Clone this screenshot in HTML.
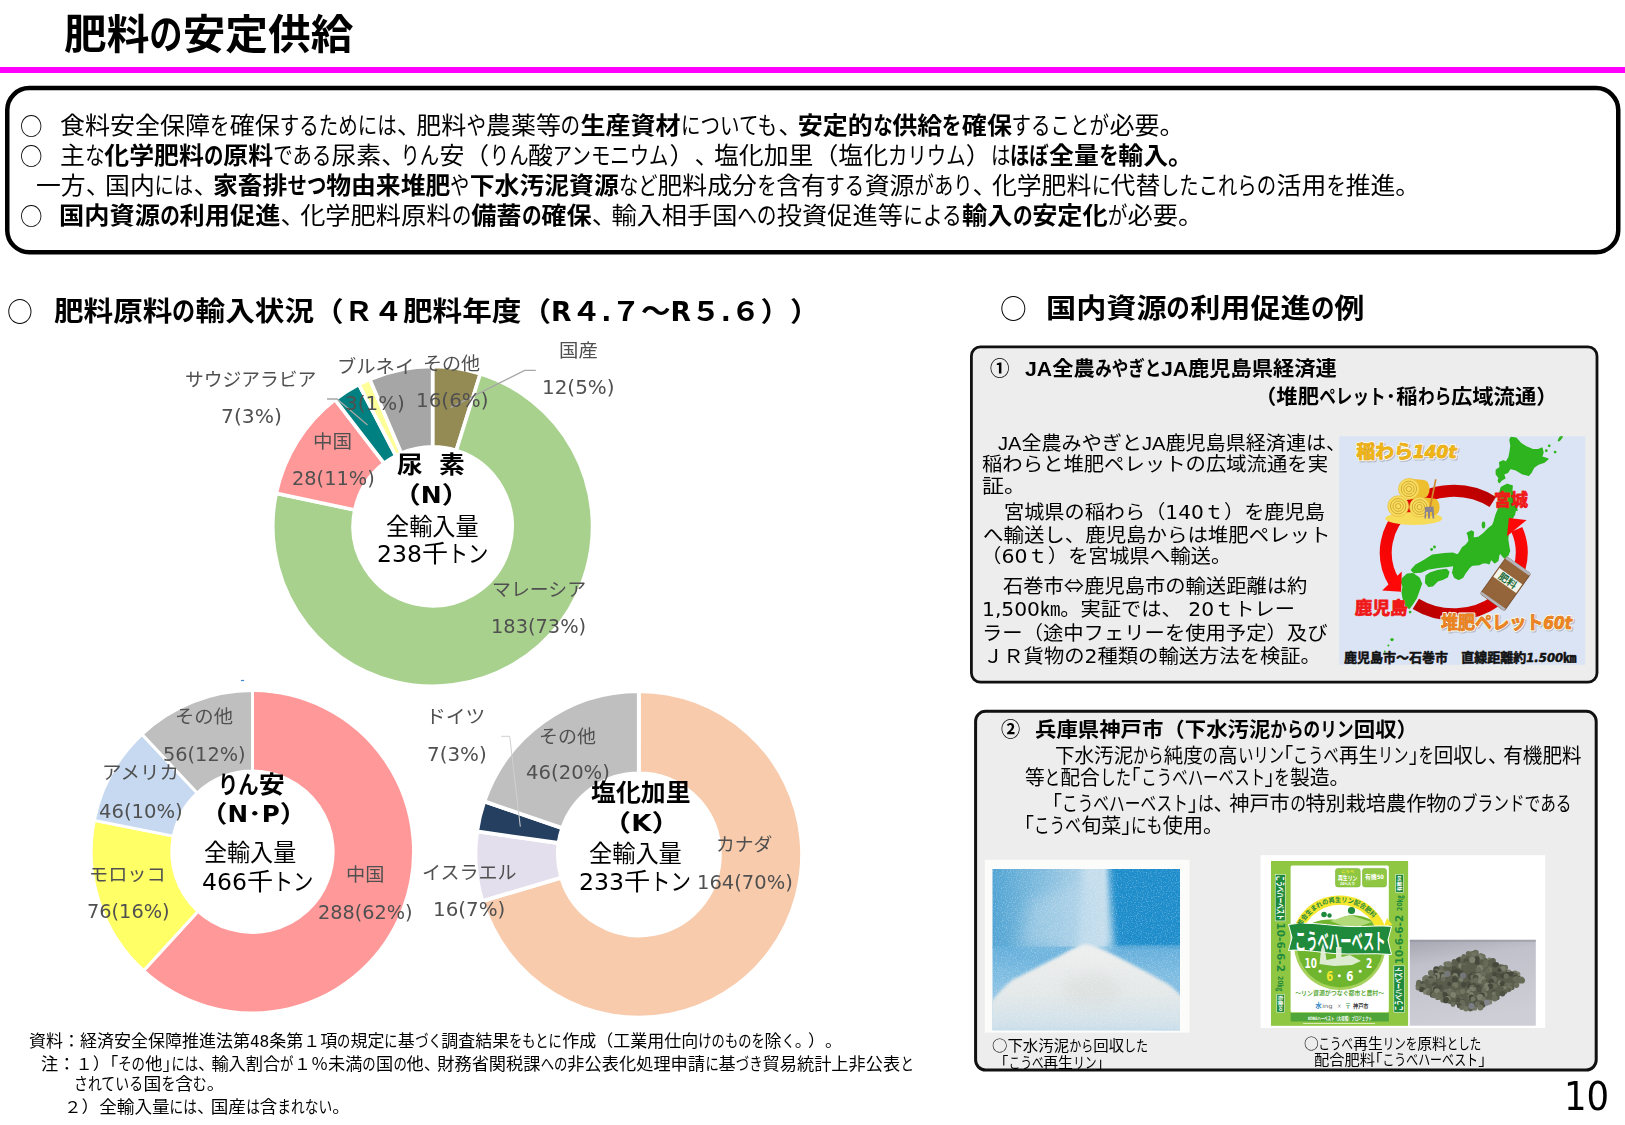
<!DOCTYPE html>
<html lang="ja"><head><meta charset="utf-8"><title>肥料の安定供給</title>
<style>
html,body{margin:0;padding:0;background:#fff}
body{width:1625px;height:1125px;position:relative;overflow:hidden;font-family:"DejaVu Sans Condensed","Liberation Sans","Noto Sans CJK JP",sans-serif;color:#000}
.t{position:absolute;white-space:nowrap;text-spacing-trim:space-all;transform-origin:0 0;line-height:1;font-weight:400}
.m{font-family:"DejaVu Sans","Liberation Sans","Noto Sans CJK JP",sans-serif}
.n{font-family:"Noto Sans CJK JP",sans-serif}
.t em{font-style:normal;font-family:"Liberation Sans",sans-serif}
.t u{display:inline-block;text-decoration:none;white-space:nowrap}
.t i{font-style:normal;letter-spacing:-.22em}
.t s{display:inline-block;text-decoration:none;transform:scaleX(.78);transform-origin:0 0}
.b,.t b{font-weight:700}
svg{position:absolute;left:0;top:0}
svg text{font-family:"DejaVu Sans Condensed","Liberation Sans","Noto Sans CJK JP",sans-serif}
</style></head>
<body>
<svg width="1625" height="1125" viewBox="0 0 1625 1125"><rect x="0" y="67" width="1625" height="6" fill="#ff00ff"/><rect x="7.25" y="88.1" width="1611" height="164.1" rx="22" ry="22" fill="#fff" stroke="#000" stroke-width="4.5"/><g stroke="#fff" stroke-width="3.6" stroke-linejoin="miter"><path d="M432.6 366.4A159.9 159.9 0 0 1 480.3 373.7L456.3 450.4A79.5 79.5 0 0 0 432.6 446.8Z" fill="#948A54"/><path d="M480.3 373.7A159.9 159.9 0 1 1 276.2 493.3L354.8 509.9A79.5 79.5 0 1 0 456.3 450.4Z" fill="#A9D18E"/><path d="M276.2 493.3A159.9 159.9 0 0 1 335.1 399.6L384.1 463.3A79.5 79.5 0 0 0 354.8 509.9Z" fill="#FF9999"/><path d="M335.1 399.6A159.9 159.9 0 0 1 358.8 384.4L395.9 455.8A79.5 79.5 0 0 0 384.1 463.3Z" fill="#008080"/><path d="M358.8 384.4A159.9 159.9 0 0 1 369.8 379.3L401.4 453.2A79.5 79.5 0 0 0 395.9 455.8Z" fill="#FFFF99"/><path d="M369.8 379.3A159.9 159.9 0 0 1 432.6 366.4L432.6 446.8A79.5 79.5 0 0 0 401.4 453.2Z" fill="#A6A6A6"/></g><g stroke="#fff" stroke-width="3" stroke-linejoin="miter"><path d="M252.5 690.5A161.2 161.2 0 1 1 143.6 970.7L198 911.3A80.7 80.7 0 1 0 252.5 771Z" fill="#FF9999"/><path d="M143.6 970.7A161.2 161.2 0 0 1 94.3 820.4L173.3 836.1A80.7 80.7 0 0 0 198 911.3Z" fill="#FFFF66"/><path d="M94.3 820.4A161.2 161.2 0 0 1 142 734.3L197.2 793A80.7 80.7 0 0 0 173.3 836.1Z" fill="#C6D9F1"/><path d="M142 734.3A161.2 161.2 0 0 1 252.5 690.5L252.5 771A80.7 80.7 0 0 0 197.2 793Z" fill="#BFBFBF"/></g><g stroke="#fff" stroke-width="3.8" stroke-linejoin="miter"><path d="M638.8 691.1A163.3 163.3 0 1 1 482.3 901.1L561.2 877.6A81 81 0 1 0 638.8 773.4Z" fill="#F8CBAD"/><path d="M482.3 901.1A163.3 163.3 0 0 1 477.1 831.4L558.6 843A81 81 0 0 0 561.2 877.6Z" fill="#E4DFEC"/><path d="M477.1 831.4A163.3 163.3 0 0 1 484.3 801.4L562.2 828.1A81 81 0 0 0 558.6 843Z" fill="#243F60"/><path d="M484.3 801.4A163.3 163.3 0 0 1 638.8 691.1L638.8 773.4A81 81 0 0 0 562.2 828.1Z" fill="#BFBFBF"/></g><rect x="240.9" y="679.9" width="3.2" height="1.2" fill="#3F8AD0"/><path d="M327 399H337L367.5 425" fill="none" stroke="#A6A6A6" stroke-width="1.3"/><path d="M535.8 370.3H524.7L450.5 407.6" fill="none" stroke="#A6A6A6" stroke-width="1.3"/><path d="M501.1 736.3H509.7L520.3 826.6" fill="none" stroke="#D0D0D0" stroke-width="1"/><rect x="971.4" y="346.9" width="625.6" height="335.2" rx="9" ry="9" fill="#EDEDED" stroke="#111" stroke-width="2.8"/><rect x="975.6" y="711.3" width="620.6" height="358.8" rx="10" ry="10" fill="#EDEDED" stroke="#111" stroke-width="3"/><g><defs><clipPath id="mc"><rect x="1339.2" y="436.3" width="246" height="228.5"/></clipPath><linearGradient id="ga" gradientUnits="userSpaceOnUse" x1="1490" y1="495" x2="1395" y2="590"><stop offset="0" stop-color="#B80000"/><stop offset=".4" stop-color="#E00000"/><stop offset="1" stop-color="#FF0808"/></linearGradient><linearGradient id="gb" gradientUnits="userSpaceOnUse" x1="1415" y1="610" x2="1520" y2="530"><stop offset="0" stop-color="#B80000"/><stop offset=".5" stop-color="#D80000"/><stop offset="1" stop-color="#FF0808"/></linearGradient></defs><rect x="1339.2" y="436.3" width="246" height="228.5" fill="#DBE4F4"/><g clip-path="url(#mc)"><polygon points="1511.1,437.5 1516,438.4 1520.9,443.8 1525.7,446.8 1532.6,449.7 1538.5,449.7 1541.9,448.2 1542.9,452.6 1541.4,457 1547.8,459 1544.3,461.9 1538.5,463.9 1533.6,467.3 1531.1,472.2 1528.7,475.1 1522.8,473.7 1516,469.7 1510.1,468.3 1507.7,472.2 1503.3,474.1 1504.7,478.1 1501.3,480 1499.3,482.5 1498.4,480.5 1499.3,478.1 1496.4,474.1 1496.4,470.2 1500.3,467.3 1499.8,462.4 1503.3,460.9 1506.2,462.4 1509.1,457.5 1510.1,452.6 1511.1,445.8 1510.1,439.9" fill="#2DB41E" stroke="#2DB41E" stroke-width="1.6" stroke-linejoin="round"/><polygon points="1502.3,486.9 1507.2,484.4 1512.1,485.9 1511.6,490.8 1514,496.6 1516,504.5 1516.9,510.3 1515.3,509.8 1514.3,514.7 1511.9,518.6 1508.5,529.3 1507.5,539.1 1508.5,546 1509.4,550.9 1507.5,555.7 1504.5,557.7 1502.6,555.7 1500.6,552.8 1498.7,554.8 1497.7,560.6 1494.8,562.6 1490.9,558.7 1488.9,563.6 1486,562.6 1483,562.6 1479.1,564.5 1473.3,565 1469.3,562.6 1468.4,568.5 1465.4,572.4 1462.5,577.3 1458.6,579.2 1454.7,577.3 1452.7,572.4 1454.7,567.5 1456.6,563.6 1477.6,564.1 1471.7,565.1 1467.8,569 1462.9,572.9 1460,578.8 1456.1,577.8 1453.1,572 1454.1,565.1 1448.2,566.1 1438.5,567.1 1427.7,569 1420.9,572 1414,572.5 1411.6,570 1416,565.1 1424.8,560.2 1432.6,555.3 1444.3,553.9 1453.1,553.4 1458,555.3 1459.6,552.8 1462.5,547.9 1466.4,545 1469.3,541.1 1468.4,535.2 1467.4,533.3 1471.3,531.1 1473.3,532.3 1472.8,538.6 1479.1,537.2 1483,534.2 1488.9,528.4 1492.8,525.4 1494.3,521.5 1496.2,514.7 1498.7,508.8 1499.3,494.7 1501.3,487.8" fill="#2DB41E" stroke="#2DB41E" stroke-width="1.6" stroke-linejoin="round"/><polygon points="1402.3,578.8 1407.2,574.4 1413,573.9 1418.9,577.8 1421.3,583.7 1418.9,590.5 1416,598.4 1412.1,604.2 1409.1,608.2 1406.2,606.2 1403.3,598.4 1402.3,592.5 1403.3,586.6 1401.8,582.7" fill="#2DB41E" stroke="#2DB41E" stroke-width="1.6" stroke-linejoin="round"/><polygon points="1426.2,575.9 1430.6,572.9 1438.5,570.5 1446.3,569.5 1448.7,572 1447.3,576.9 1442.4,579.3 1437.5,580.8 1432.6,585.7 1428.7,586.1 1425.7,582.7" fill="#2DB41E" stroke="#2DB41E" stroke-width="1.6" stroke-linejoin="round"/><circle cx="1549.2" cy="445.8" r="1.4" fill="#2DB41E"/><circle cx="1546.3" cy="450.7" r="1.4" fill="#2DB41E"/><circle cx="1555.1" cy="452.1" r="1.4" fill="#2DB41E"/><circle cx="1434.5" cy="547" r="1.4" fill="#2DB41E"/><circle cx="1431.6" cy="549.5" r="1.4" fill="#2DB41E"/><circle cx="1410.1" cy="612.1" r="1.4" fill="#2DB41E"/><ellipse cx="1560.5" cy="438" rx="1.5" ry="4" transform="rotate(35 1560.5 438)" fill="#2DB41E"/><ellipse cx="1483.5" cy="525" rx="1.8" ry="3.4" fill="#2DB41E"/><circle cx="1392" cy="639.6" r="1.7" fill="#2DB41E"/><circle cx="1388.4" cy="645.6" r="1" fill="#2DB41E"/><circle cx="1384.8" cy="651.6" r="1" fill="#2DB41E"/><circle cx="1376.4" cy="662.4" r="1" fill="#2DB41E"/><path d="M1492.8 502A68 61.8 0 0 0 1394.3 582.6" fill="none" stroke="url(#ga)" stroke-width="12"/><polygon points="1382.2,590.5 1401.8,571.5 1401.1,591.7" fill="#FF0808"/><path d="M1415.8 603.8A68 61.8 0 0 0 1516.8 529.4" fill="none" stroke="url(#gb)" stroke-width="12"/><polygon points="1508.9,518.1 1526.6,520 1507,536.2" fill="#FF0808"/><ellipse cx="1413.8" cy="518.5" rx="28.5" ry="6.4" fill="#F7DC5A"/><path d="M1408.9 478.5L1423.9 480A5.7 8.9 0 0 1 1423.9 497.8L1408.9 499.3Z" fill="#EDBE2E"/><circle cx="1408.9" cy="488.9" r="10.4" fill="#F9DD60" stroke="#E8C040" stroke-width=".8"/><circle cx="1408.9" cy="488.9" r="7.7" fill="none" stroke="#CDA52A" stroke-width=".9"/><circle cx="1408.9" cy="488.9" r="5.2" fill="none" stroke="#CDA52A" stroke-width=".9"/><circle cx="1408.9" cy="488.9" r="2.7" fill="none" stroke="#CDA52A" stroke-width=".9"/><path d="M1419.6 497.1L1434.1 498.6A5.5 8.5 0 0 1 1434.1 515.6L1419.6 517.1Z" fill="#EDBE2E"/><circle cx="1419.6" cy="507.1" r="10" fill="#F9DD60" stroke="#E8C040" stroke-width=".8"/><circle cx="1419.6" cy="507.1" r="7.4" fill="none" stroke="#CDA52A" stroke-width=".9"/><circle cx="1419.6" cy="507.1" r="5" fill="none" stroke="#CDA52A" stroke-width=".9"/><circle cx="1419.6" cy="507.1" r="2.6" fill="none" stroke="#CDA52A" stroke-width=".9"/><circle cx="1398.2" cy="506.2" r="10.4" fill="#F9DD60" stroke="#E8C040" stroke-width=".8"/><circle cx="1398.2" cy="506.2" r="7.7" fill="none" stroke="#CDA52A" stroke-width=".9"/><circle cx="1398.2" cy="506.2" r="5.2" fill="none" stroke="#CDA52A" stroke-width=".9"/><circle cx="1398.2" cy="506.2" r="2.7" fill="none" stroke="#CDA52A" stroke-width=".9"/><path d="M1435 479L1436.6 479.4L1431 507.5L1429.2 507.2Z" fill="#D08A30"/><path d="M1425 507L1433.5 506.5L1434.3 518.5L1432.5 518.5L1432 512L1430 512L1430 518.5L1428 518.5L1428 512L1426.2 512L1426 518.5L1424.4 518.5Z" fill="#8A8490"/><g transform="rotate(35.5 1505.5 583.7)"><rect x="1490.8" y="561" width="29.4" height="45.4" rx="2" fill="#94643A" stroke="#7A5230" stroke-width="1"/><rect x="1490.8" y="560.5" width="29.4" height="3" fill="#B4B4BC"/><rect x="1490.8" y="604" width="29.4" height="2.6" fill="#B4B4BC"/><rect x="1491.5" y="574.5" width="28" height="10.6" fill="#F3F5EC"/><text x="1495.5" y="583.4" font-size="9.6" font-weight="700" fill="#1E6B3A" textLength="20" lengthAdjust="spacingAndGlyphs">肥料</text></g><g transform="translate(1 1.4)" opacity=".55"><text x="1356.5" y="457.8" font-size="18.5" font-weight="700" fill="#8C93A8" stroke="#8C93A8" stroke-width="3" paint-order="stroke" stroke-linejoin="round" textLength="100" lengthAdjust="spacingAndGlyphs">稲わら<tspan font-style="italic">140t</tspan></text></g><text x="1356.5" y="457.8" font-size="18.5" font-weight="700" fill="#FFF9E6" stroke="#FFF9E6" stroke-width="2.8" paint-order="stroke" stroke-linejoin="round" textLength="100" lengthAdjust="spacingAndGlyphs">稲わら<tspan font-style="italic">140t</tspan></text><text x="1356.5" y="457.8" font-size="18.5" font-weight="700" fill="#F0B414" stroke="#C98F00" stroke-width="0.7" paint-order="stroke" stroke-linejoin="round" textLength="100" lengthAdjust="spacingAndGlyphs">稲わら<tspan font-style="italic">140t</tspan></text><g transform="translate(1 1.4)" opacity=".55"><text x="1441" y="628.7" font-size="18.5" font-weight="700" fill="#8C93A8" stroke="#8C93A8" stroke-width="3" paint-order="stroke" stroke-linejoin="round" textLength="131" lengthAdjust="spacingAndGlyphs">堆肥ペレット<tspan font-style="italic">60t</tspan></text></g><text x="1441" y="628.7" font-size="18.5" font-weight="700" fill="#FFF9E6" stroke="#FFF9E6" stroke-width="2.8" paint-order="stroke" stroke-linejoin="round" textLength="131" lengthAdjust="spacingAndGlyphs">堆肥ペレット<tspan font-style="italic">60t</tspan></text><text x="1441" y="628.7" font-size="18.5" font-weight="700" fill="#EE8420" stroke="#B85C0C" stroke-width="0.7" paint-order="stroke" stroke-linejoin="round" textLength="131" lengthAdjust="spacingAndGlyphs">堆肥ペレット<tspan font-style="italic">60t</tspan></text><text x="1494" y="505.7" font-size="17" font-weight="700" fill="#F01818" stroke="#F01818" stroke-width="0.8" paint-order="stroke" stroke-linejoin="round" textLength="34" lengthAdjust="spacingAndGlyphs">宮城</text><text x="1354.8" y="613.9" font-size="17.5" font-weight="700" fill="#F01818" stroke="#F01818" stroke-width="0.8" paint-order="stroke" stroke-linejoin="round" textLength="52.8" lengthAdjust="spacingAndGlyphs">鹿児島</text><text x="1344" y="662.3" font-size="13" font-weight="700" fill="#111" stroke="#111" stroke-width="0.5" paint-order="stroke" stroke-linejoin="round" textLength="232.3" lengthAdjust="spacingAndGlyphs">鹿児島市～石巻市　直線距離約<tspan font-style="italic">1.500</tspan>㎞</text></g></g><g><defs><clipPath id="p1"><rect x="992.5" y="869.1" width="187.5" height="161.1"/></clipPath><filter id="bl3" x="-20%" y="-20%" width="140%" height="140%"><feGaussianBlur stdDeviation="3.5"/></filter><filter id="bl1" x="-20%" y="-20%" width="140%" height="140%"><feGaussianBlur stdDeviation="1.6"/></filter><filter id="bl6" x="-30%" y="-30%" width="160%" height="160%"><feGaussianBlur stdDeviation="7"/></filter><filter id="gr" x="0" y="0" width="100%" height="100%"><feTurbulence type="fractalNoise" baseFrequency=".8" numOctaves="2" seed="3"/><feColorMatrix values="0 0 0 0 1 0 0 0 0 1 0 0 0 0 1 1.6 0 0 0 -.75"/></filter><linearGradient id="p1a" x1="0" y1="0" x2="1" y2="0"><stop offset="0" stop-color="#4FA3D3"/><stop offset=".25" stop-color="#7DBADD"/><stop offset=".48" stop-color="#A9CFE6"/><stop offset="1" stop-color="#A9CFE6"/></linearGradient><linearGradient id="p1b" x1="0" y1="0" x2="0" y2="1"><stop offset="0" stop-color="#62AEDB"/><stop offset=".5" stop-color="#8AC2E4"/><stop offset="1" stop-color="#A5D0EA"/></linearGradient><linearGradient id="p1c" x1="0" y1="0" x2="0" y2="1"><stop offset="0" stop-color="#EDEFEE"/><stop offset=".5" stop-color="#E4E8E8"/><stop offset=".85" stop-color="#CFE0EA"/><stop offset="1" stop-color="#B2D3E8"/></linearGradient></defs><rect x="984.8" y="859.8" width="204.8" height="172.8" fill="#FCFCFA"/><g clip-path="url(#p1)"><rect x="992" y="868" width="189" height="80" fill="url(#p1a)"/><rect x="992" y="946.5" width="189" height="85" fill="url(#p1b)"/><rect x="1150" y="990" width="40" height="50" fill="#5FA8D8" opacity=".55" filter="url(#bl6)"/><rect x="1106" y="860" width="80" height="86.5" fill="#1A8CCB" filter="url(#bl1)"/><path d="M1084 860L1108 860L1114 948L1078 948Z" fill="#C9E0EE" opacity=".9" filter="url(#bl3)"/><path d="M1030 900L1090 880L1096 946L1020 946Z" fill="#B5D6EA" opacity=".5" filter="url(#bl6)"/><path d="M980 1040L980 1012C992 1002 1000 990 1012 980C1032 970 1056 958 1070 950C1078 946 1082 944 1088 944.5C1096 945.5 1104 950 1116 956C1136 966 1154 976 1168 984C1176 990 1184 998 1190 1006L1190 1040Z" fill="url(#p1c)" filter="url(#bl1)"/><ellipse cx="1092" cy="990" rx="30" ry="16" fill="#D6DAD8" opacity=".5" filter="url(#bl6)"/><rect x="992" y="868" width="189" height="163" filter="url(#gr)" opacity=".5"/></g></g><g><rect x="1260.6" y="855.2" width="284.6" height="172.8" fill="#fff"/><rect x="1271" y="861" width="137.1" height="164.8" fill="#8FC742"/><rect x="1290.6" y="865.6" width="98.2" height="146.6" rx="1.5" fill="#fff"/><rect x="1290.6" y="1013" width="98.2" height="8.5" fill="#4FA53A"/><rect x="1303" y="1023" width="72" height="1" fill="#D6EBB8"/><defs><clipPath id="bgl"><rect x="1290" y="946" width="100" height="60"/></clipPath><clipPath id="bgu"><rect x="1290" y="890" width="100" height="56"/></clipPath><clipPath id="bgi"><circle cx="1339.7" cy="944.1" r="39.4"/></clipPath></defs><circle cx="1339.7" cy="944.1" r="48.7" fill="#F5E62E" clip-path="url(#bgu)"/><circle cx="1339.7" cy="944.1" r="39.4" fill="#fff" clip-path="url(#bgu)"/><path d="M1387 918L1392.5 925L1384 926Z" fill="#F5E62E"/><g clip-path="url(#bgi)"><path d="M1300 932C1310 922 1322 918 1336 920C1350 912 1366 914 1380 926L1382 950L1300 950Z" fill="#70B52E"/><path d="M1330 921L1350 915L1372 922L1352 929Z" fill="#B2D97A"/></g><circle cx="1324" cy="914.5" r="2.8" fill="#1F8A3C"/><circle cx="1329.5" cy="915.5" r="2.2" fill="#1F8A3C"/><circle cx="1351.5" cy="910.5" r="3.6" fill="#1F8A3C"/><circle cx="1339.9" cy="944.1" r="46" fill="#A6D15C" clip-path="url(#bgl)"/><circle cx="1340.1" cy="944.1" r="43.3" fill="#70B52E" clip-path="url(#bgl)"/><path d="M1288.5 924.5C1310 921 1330 926 1350 926.5C1368 927 1380 925 1391.5 926.5L1388 940L1391.5 954.5C1372 952.5 1352 955 1334 953.5C1316 952 1302 949 1288.5 950.5L1292 937.5Z" fill="#1F8A3C" stroke="#fff" stroke-width="1"/><text x="1295" y="948.5" font-size="22" font-weight="700" fill="#fff" textLength="90.5" lengthAdjust="spacingAndGlyphs">こうべハーベスト</text><path d="M1319.5 964L1321 950L1323 943L1325 950L1326.5 960L1336 958L1336 947L1341.5 947L1341.5 957L1350 955L1361 961L1352 965L1334 966Z" fill="#E9F1E2" opacity=".9"/><g fill="#fff" font-weight="700" font-size="13.2"><text x="1304.5" y="968.3" textLength="12.4" lengthAdjust="spacingAndGlyphs">10</text><text x="1365.9" y="968.3" textLength="6.2" lengthAdjust="spacingAndGlyphs">2</text><text x="1346.3" y="981.1" textLength="7.2" lengthAdjust="spacingAndGlyphs">6</text><text x="1326.2" y="981.1" textLength="7" lengthAdjust="spacingAndGlyphs" fill="#F5E62E">6</text><circle cx="1320" cy="971.2" r="1.5"/><circle cx="1339.3" cy="975.8" r="1.5"/><circle cx="1360.2" cy="971.2" r="1.5"/></g><rect x="1335.5" y="868.4" width="24.7" height="18.5" rx="2.5" fill="#8FC742" stroke="#7AB536" stroke-width=".6"/><rect x="1362.5" y="868.4" width="24" height="18.5" rx="2.5" fill="#8FC742" stroke="#7AB536" stroke-width=".6"/><text x="1338" y="879.6" font-size="6.2" font-weight="700" fill="#fff" textLength="19.5" lengthAdjust="spacingAndGlyphs">再生リン</text><text x="1341" y="873.4" font-size="3.8" font-weight="700" fill="#F5E62E" textLength="13" lengthAdjust="spacingAndGlyphs">こうべ</text><text x="1340" y="884.6" font-size="3.8" font-weight="700" fill="#fff" textLength="15" lengthAdjust="spacingAndGlyphs">20%入り</text><text x="1365" y="878.8" font-size="6" font-weight="700" fill="#fff" textLength="19" lengthAdjust="spacingAndGlyphs">有機50</text><defs><path id="arcp" d="M1301.5 926.5A42.3 42.3 0 0 1 1380 931"/></defs><text font-size="6.6" font-weight="700" fill="#1F8A3C"><textPath href="#arcp" textLength="86" lengthAdjust="spacingAndGlyphs">都会生まれの再生リン配合肥料</textPath></text><text x="1295.2" y="995.4" font-size="6" font-weight="700" fill="#5DAA3A" textLength="89" lengthAdjust="spacingAndGlyphs">～リン資源がつなぐ都市と農村～</text><text x="1315.3" y="1007.8" font-size="6.4" font-weight="700" fill="#2E86C8" textLength="6.5" lengthAdjust="spacingAndGlyphs">水</text><text x="1322.2" y="1007.5" font-size="5.6" fill="#666" textLength="10.5" lengthAdjust="spacingAndGlyphs">ing</text><text x="1337" y="1007.8" font-size="6" fill="#888">×</text><text x="1345" y="1007.8" font-size="6" font-weight="700" fill="#1F8A3C" textLength="7">〒</text><text x="1353" y="1007.5" font-size="5.4" font-weight="700" fill="#333" textLength="15.5" lengthAdjust="spacingAndGlyphs">神戸市</text><text x="1308" y="1019.6" font-size="4.6" font-weight="700" fill="#fff" textLength="64" lengthAdjust="spacingAndGlyphs">KOBEハーベスト（大収穫）プロジェクト</text><rect x="1275.2" y="874.6" width="10" height="46.3" fill="#1F8A3C" stroke="#fff" stroke-width=".5"/><text transform="translate(1277.1 875.8) rotate(90)" font-size="8.6" font-weight="700" fill="#fff" textLength="43.9" lengthAdjust="spacingAndGlyphs">こうべハーベスト</text><text transform="translate(1277.4 922.5) rotate(90)" font-size="10" font-weight="700" fill="#1F8A3C" textLength="49.5" lengthAdjust="spacingAndGlyphs">10-6-6-2</text><text transform="translate(1278.1 976) rotate(90)" font-size="7" font-weight="700" fill="#1F8A3C" textLength="15.5" lengthAdjust="spacingAndGlyphs">20㎏</text><rect x="1276.8" y="994.4" width="7.6" height="17.8" fill="#1F8A3C" stroke="#fff" stroke-width=".5"/><text transform="translate(1278.9 995.6) rotate(90)" font-size="4.6" font-weight="700" fill="#fff" textLength="15.4" lengthAdjust="spacingAndGlyphs">有機50</text><rect x="1395.8" y="874.6" width="7.6" height="17.7" fill="#1F8A3C" stroke="#fff" stroke-width=".5"/><text transform="translate(1401.3 891.1) rotate(-90)" font-size="4.6" font-weight="700" fill="#fff" textLength="15.3" lengthAdjust="spacingAndGlyphs">有機50</text><text transform="translate(1402.1 911) rotate(-90)" font-size="7" font-weight="700" fill="#1F8A3C" textLength="15.8" lengthAdjust="spacingAndGlyphs">20㎏</text><text transform="translate(1402.8 964.2) rotate(-90)" font-size="10" font-weight="700" fill="#1F8A3C" textLength="49.4" lengthAdjust="spacingAndGlyphs">10-6-6-2</text><rect x="1393.9" y="965.8" width="10.6" height="46.4" fill="#1F8A3C" stroke="#fff" stroke-width=".5"/><text transform="translate(1402.3 1011) rotate(-90)" font-size="8.6" font-weight="700" fill="#fff" textLength="44" lengthAdjust="spacingAndGlyphs">こうべハーベスト</text></g><g><defs><linearGradient id="pg" x1="0" y1="0" x2="0.25" y2="1"><stop offset="0" stop-color="#A6A6B2"/><stop offset=".3" stop-color="#C0C1CA"/><stop offset="1" stop-color="#CDCED6"/></linearGradient></defs><rect x="1409.8" y="939.8" width="126" height="85.9" fill="url(#pg)"/><rect x="1409.8" y="939.8" width="126" height="2" fill="#8E8E9A" opacity=".5"/><polygon points="1414.9,986 1440,968 1473.7,951.9 1500,965 1523.2,979.5 1500,996 1471.9,1010.3 1440,999" fill="#5A5D4C"/><circle cx="1475.7" cy="952.9" r="3.1" fill="#6A6C5C"/><circle cx="1472.2" cy="953.7" r="2.4" fill="#45483B"/><circle cx="1468.5" cy="953.7" r="2.7" fill="#676A57"/><circle cx="1471.5" cy="954.2" r="2.5" fill="#676A57"/><circle cx="1473.7" cy="954.5" r="2.5" fill="#727562"/><circle cx="1480.9" cy="955.3" r="2.3" fill="#727562"/><circle cx="1463.8" cy="956.5" r="2.4" fill="#676A57"/><circle cx="1482.8" cy="956.9" r="2.9" fill="#6A6C5C"/><circle cx="1480.6" cy="957.1" r="2.3" fill="#7E806E"/><circle cx="1472.1" cy="957.7" r="2.3" fill="#6A6C5C"/><circle cx="1477.1" cy="958.2" r="2.7" fill="#676A57"/><circle cx="1460.1" cy="959.1" r="2.7" fill="#676A57"/><circle cx="1476.7" cy="959.1" r="2.8" fill="#45483B"/><circle cx="1489.4" cy="959.9" r="2.3" fill="#7E806E"/><circle cx="1458.3" cy="959.9" r="2.4" fill="#45483B"/><circle cx="1472.3" cy="959.9" r="3.1" fill="#7E806E"/><circle cx="1492.9" cy="961" r="3" fill="#5B5E4C"/><circle cx="1466.2" cy="961.1" r="2.7" fill="#4E5142"/><circle cx="1454.4" cy="961.9" r="2.8" fill="#5B5E4C"/><circle cx="1489.7" cy="962.4" r="2.9" fill="#5B5E4C"/><circle cx="1477.2" cy="962.5" r="2.4" fill="#45483B"/><circle cx="1485.9" cy="962.7" r="2.6" fill="#676A57"/><circle cx="1449.2" cy="963.9" r="2.5" fill="#6A6C5C"/><circle cx="1445.9" cy="964.1" r="2.5" fill="#727562"/><circle cx="1448.3" cy="964.2" r="3" fill="#727562"/><circle cx="1466.9" cy="964.3" r="3.1" fill="#5B5E4C"/><circle cx="1496.8" cy="964.6" r="2.4" fill="#45483B"/><circle cx="1495.2" cy="964.8" r="2.7" fill="#45483B"/><circle cx="1485.7" cy="965.2" r="2.3" fill="#676A57"/><circle cx="1460.5" cy="966" r="2.4" fill="#7E806E"/><circle cx="1464" cy="966.3" r="3.1" fill="#6A6C5C"/><circle cx="1500.2" cy="966.7" r="2.5" fill="#5B5E4C"/><circle cx="1453.2" cy="966.8" r="2.3" fill="#6A6C5C"/><circle cx="1463.5" cy="967.1" r="2.2" fill="#7E806E"/><circle cx="1464.2" cy="967.2" r="3" fill="#5B5E4C"/><circle cx="1481.8" cy="967.4" r="2.9" fill="#676A57"/><circle cx="1502.3" cy="967.4" r="2.9" fill="#5B5E4C"/><circle cx="1505.3" cy="967.4" r="2.7" fill="#6A6C5C"/><circle cx="1453.9" cy="967.7" r="2.3" fill="#4E5142"/><circle cx="1440.8" cy="967.9" r="2.6" fill="#6A6C5C"/><circle cx="1479.8" cy="968.2" r="3.1" fill="#7E806E"/><circle cx="1489.8" cy="968.5" r="2.3" fill="#6A6C5C"/><circle cx="1502.9" cy="968.9" r="2.8" fill="#7E806E"/><circle cx="1436.3" cy="969.2" r="3" fill="#45483B"/><circle cx="1478.3" cy="969.6" r="2.7" fill="#6A6C5C"/><circle cx="1466.4" cy="969.7" r="2.9" fill="#5B5E4C"/><circle cx="1489.9" cy="970" r="2.4" fill="#727562"/><circle cx="1499.5" cy="970.4" r="2.2" fill="#45483B"/><circle cx="1457.2" cy="970.9" r="2.5" fill="#45483B"/><circle cx="1487.6" cy="970.9" r="2.6" fill="#676A57"/><circle cx="1436.6" cy="971.3" r="2.7" fill="#676A57"/><circle cx="1443.5" cy="971.4" r="2.4" fill="#676A57"/><circle cx="1508.8" cy="971.6" r="2.2" fill="#6A6C5C"/><circle cx="1509.1" cy="972.2" r="2.2" fill="#7E806E"/><circle cx="1440.8" cy="972.4" r="2.9" fill="#727562"/><circle cx="1453.9" cy="972.5" r="3.1" fill="#45483B"/><circle cx="1503.7" cy="972.9" r="2.3" fill="#676A57"/><circle cx="1460.9" cy="972.9" r="2.6" fill="#45483B"/><circle cx="1434.7" cy="972.9" r="3" fill="#45483B"/><circle cx="1430.9" cy="973" r="2.9" fill="#6A6C5C"/><circle cx="1515.1" cy="973" r="2.5" fill="#727562"/><circle cx="1447.9" cy="973.6" r="3" fill="#6A6C5C"/><circle cx="1483" cy="973.7" r="2.8" fill="#6A6C5C"/><circle cx="1511.6" cy="973.8" r="2.6" fill="#45483B"/><circle cx="1507.8" cy="974" r="2.3" fill="#45483B"/><circle cx="1457.3" cy="974" r="2.5" fill="#45483B"/><circle cx="1494.6" cy="974.1" r="2.6" fill="#4E5142"/><circle cx="1472.7" cy="974.2" r="2.5" fill="#4E5142"/><circle cx="1436.6" cy="974.4" r="2.5" fill="#45483B"/><circle cx="1517.4" cy="974.6" r="3" fill="#7E806E"/><circle cx="1448.6" cy="974.8" r="2.5" fill="#676A57"/><circle cx="1498.8" cy="974.8" r="2.9" fill="#676A57"/><circle cx="1441.7" cy="974.9" r="3" fill="#4E5142"/><circle cx="1483.5" cy="975.1" r="2.4" fill="#6A6C5C"/><circle cx="1495.8" cy="975.1" r="2.6" fill="#45483B"/><circle cx="1504.2" cy="975.1" r="3" fill="#4E5142"/><circle cx="1498.7" cy="975.2" r="2.6" fill="#4E5142"/><circle cx="1515.5" cy="975.5" r="2.7" fill="#5B5E4C"/><circle cx="1455.1" cy="975.6" r="2.7" fill="#7E806E"/><circle cx="1473.3" cy="975.7" r="2.6" fill="#5B5E4C"/><circle cx="1437" cy="975.7" r="3" fill="#7E806E"/><circle cx="1478.2" cy="976" r="3.1" fill="#7E806E"/><circle cx="1502.9" cy="976.1" r="2.5" fill="#45483B"/><circle cx="1506.2" cy="976.1" r="2.6" fill="#6A6C5C"/><circle cx="1443.3" cy="976.4" r="2.3" fill="#7E806E"/><circle cx="1470.7" cy="976.7" r="2.9" fill="#45483B"/><circle cx="1435.2" cy="976.7" r="2.3" fill="#4E5142"/><circle cx="1472.4" cy="977.1" r="2.3" fill="#6A6C5C"/><circle cx="1515.3" cy="977.2" r="2.3" fill="#45483B"/><circle cx="1426.1" cy="977.7" r="2.7" fill="#727562"/><circle cx="1483.5" cy="977.7" r="2.2" fill="#5B5E4C"/><circle cx="1475.6" cy="977.7" r="2.9" fill="#4E5142"/><circle cx="1454.6" cy="978.1" r="2.5" fill="#4E5142"/><circle cx="1427.5" cy="978.1" r="2.6" fill="#727562"/><circle cx="1433.3" cy="978.1" r="2.9" fill="#727562"/><circle cx="1482.9" cy="978.3" r="2.3" fill="#7E806E"/><circle cx="1518.8" cy="978.7" r="2.7" fill="#4E5142"/><circle cx="1424.5" cy="978.8" r="2.5" fill="#727562"/><circle cx="1516.5" cy="978.9" r="3" fill="#676A57"/><circle cx="1449.6" cy="979" r="2.5" fill="#5B5E4C"/><circle cx="1493.9" cy="979" r="3" fill="#6A6C5C"/><circle cx="1451.3" cy="979.1" r="2.6" fill="#5B5E4C"/><circle cx="1515" cy="979.1" r="2.4" fill="#6A6C5C"/><circle cx="1430.9" cy="979.2" r="3" fill="#4E5142"/><circle cx="1443.2" cy="979.3" r="2.4" fill="#6A6C5C"/><circle cx="1521.1" cy="979.4" r="3" fill="#727562"/><circle cx="1461.1" cy="979.6" r="2.2" fill="#7E806E"/><circle cx="1454.8" cy="979.7" r="3" fill="#45483B"/><circle cx="1520.4" cy="980" r="2.4" fill="#7E806E"/><circle cx="1476.2" cy="980.1" r="2.4" fill="#4E5142"/><circle cx="1476" cy="980.4" r="2.8" fill="#676A57"/><circle cx="1518.9" cy="980.5" r="2.9" fill="#676A57"/><circle cx="1521.9" cy="980.5" r="3.1" fill="#676A57"/><circle cx="1483.1" cy="980.6" r="3" fill="#7E806E"/><circle cx="1431.9" cy="980.7" r="3" fill="#676A57"/><circle cx="1428.3" cy="980.8" r="2.8" fill="#6A6C5C"/><circle cx="1491.2" cy="980.8" r="2.6" fill="#4E5142"/><circle cx="1473" cy="981.2" r="2.4" fill="#6A6C5C"/><circle cx="1480.2" cy="981.3" r="2.5" fill="#7E806E"/><circle cx="1474.6" cy="981.5" r="2.8" fill="#676A57"/><circle cx="1426.8" cy="981.6" r="2.4" fill="#5B5E4C"/><circle cx="1433.7" cy="981.7" r="2.7" fill="#676A57"/><circle cx="1474.8" cy="981.9" r="2.9" fill="#676A57"/><circle cx="1491.1" cy="982.3" r="2.9" fill="#45483B"/><circle cx="1484.6" cy="982.4" r="3" fill="#45483B"/><circle cx="1418.9" cy="982.5" r="2.7" fill="#676A57"/><circle cx="1437.8" cy="982.7" r="3" fill="#5B5E4C"/><circle cx="1484.5" cy="982.8" r="2.8" fill="#676A57"/><circle cx="1500.1" cy="982.9" r="2.3" fill="#7E806E"/><circle cx="1468.3" cy="983.3" r="2.3" fill="#4E5142"/><circle cx="1502.3" cy="983.5" r="2.6" fill="#45483B"/><circle cx="1421.4" cy="983.9" r="2.3" fill="#4E5142"/><circle cx="1449.4" cy="984" r="2.2" fill="#45483B"/><circle cx="1418.4" cy="984" r="2.5" fill="#676A57"/><circle cx="1463.7" cy="984.7" r="2.6" fill="#45483B"/><circle cx="1507.5" cy="984.7" r="2.3" fill="#676A57"/><circle cx="1486.4" cy="984.8" r="3.1" fill="#5B5E4C"/><circle cx="1506.7" cy="984.9" r="2.4" fill="#676A57"/><circle cx="1434.8" cy="985" r="2.9" fill="#4E5142"/><circle cx="1515.3" cy="985" r="2.4" fill="#5B5E4C"/><circle cx="1489.7" cy="985" r="3.1" fill="#4E5142"/><circle cx="1516.5" cy="985.1" r="2.8" fill="#6A6C5C"/><circle cx="1473.9" cy="985.2" r="2.7" fill="#4E5142"/><circle cx="1455.2" cy="985.3" r="3" fill="#727562"/><circle cx="1492.4" cy="985.3" r="2.3" fill="#4E5142"/><circle cx="1486.9" cy="985.3" r="2.7" fill="#7E806E"/><circle cx="1492.4" cy="985.4" r="3" fill="#676A57"/><circle cx="1509.7" cy="985.5" r="2.8" fill="#6A6C5C"/><circle cx="1495.3" cy="986" r="2.2" fill="#676A57"/><circle cx="1423.1" cy="986.1" r="2.7" fill="#6A6C5C"/><circle cx="1490.4" cy="986.2" r="2.8" fill="#45483B"/><circle cx="1469.9" cy="986.4" r="2.9" fill="#45483B"/><circle cx="1472" cy="987.1" r="2.4" fill="#6A6C5C"/><circle cx="1440.2" cy="987.3" r="2.9" fill="#4E5142"/><circle cx="1511.8" cy="987.4" r="2.7" fill="#5B5E4C"/><circle cx="1478.3" cy="987.7" r="2.8" fill="#45483B"/><circle cx="1508.3" cy="987.9" r="2.9" fill="#6A6C5C"/><circle cx="1486.2" cy="988.2" r="2.8" fill="#7E806E"/><circle cx="1418" cy="988.2" r="2.4" fill="#727562"/><circle cx="1434.4" cy="988.3" r="2.7" fill="#6A6C5C"/><circle cx="1509.6" cy="988.4" r="2.7" fill="#727562"/><circle cx="1452.8" cy="988.4" r="2.4" fill="#5B5E4C"/><circle cx="1503.6" cy="988.7" r="2.7" fill="#7E806E"/><circle cx="1484.5" cy="988.7" r="2.2" fill="#727562"/><circle cx="1500.8" cy="988.7" r="3" fill="#5B5E4C"/><circle cx="1421.2" cy="989" r="2.5" fill="#45483B"/><circle cx="1474.7" cy="989.1" r="2.2" fill="#727562"/><circle cx="1435.9" cy="989.1" r="2.9" fill="#45483B"/><circle cx="1421.1" cy="989.2" r="2.6" fill="#676A57"/><circle cx="1479.3" cy="989.3" r="3" fill="#4E5142"/><circle cx="1422.5" cy="989.3" r="2.3" fill="#5B5E4C"/><circle cx="1422" cy="989.6" r="2.7" fill="#45483B"/><circle cx="1471.1" cy="989.7" r="2.7" fill="#7E806E"/><circle cx="1508.7" cy="989.8" r="2.4" fill="#5B5E4C"/><circle cx="1427.7" cy="989.9" r="2.2" fill="#727562"/><circle cx="1483.6" cy="990.6" r="2.2" fill="#676A57"/><circle cx="1436.9" cy="991.1" r="2.9" fill="#7E806E"/><circle cx="1469" cy="991.1" r="2.7" fill="#676A57"/><circle cx="1449.6" cy="991.3" r="2.9" fill="#727562"/><circle cx="1505.5" cy="991.3" r="2.3" fill="#6A6C5C"/><circle cx="1462.6" cy="991.4" r="2.7" fill="#727562"/><circle cx="1504.6" cy="992" r="2.4" fill="#5B5E4C"/><circle cx="1425.6" cy="992" r="2.6" fill="#7E806E"/><circle cx="1446.7" cy="992" r="2.9" fill="#6A6C5C"/><circle cx="1452.4" cy="992.5" r="2.6" fill="#676A57"/><circle cx="1458.1" cy="992.5" r="2.6" fill="#676A57"/><circle cx="1469.3" cy="992.5" r="2.8" fill="#7E806E"/><circle cx="1494.2" cy="993" r="3.1" fill="#4E5142"/><circle cx="1428.3" cy="993.1" r="2.3" fill="#6A6C5C"/><circle cx="1495.6" cy="993.6" r="2.9" fill="#5B5E4C"/><circle cx="1439.7" cy="993.7" r="2.3" fill="#727562"/><circle cx="1502.5" cy="993.8" r="2.7" fill="#4E5142"/><circle cx="1493.7" cy="993.9" r="2.2" fill="#727562"/><circle cx="1471.7" cy="994" r="3" fill="#5B5E4C"/><circle cx="1444.8" cy="994.4" r="2.3" fill="#45483B"/><circle cx="1484.9" cy="994.5" r="2.5" fill="#727562"/><circle cx="1432.6" cy="994.7" r="3" fill="#4E5142"/><circle cx="1470.9" cy="994.9" r="2.8" fill="#7E806E"/><circle cx="1453.1" cy="995" r="2.9" fill="#7E806E"/><circle cx="1439.8" cy="995" r="2.8" fill="#676A57"/><circle cx="1445.5" cy="995.2" r="2.4" fill="#45483B"/><circle cx="1434.4" cy="995.2" r="3" fill="#727562"/><circle cx="1467" cy="995.3" r="2.6" fill="#5B5E4C"/><circle cx="1434.4" cy="995.4" r="2.5" fill="#676A57"/><circle cx="1481.9" cy="995.8" r="3.1" fill="#45483B"/><circle cx="1481.8" cy="996.9" r="2.4" fill="#5B5E4C"/><circle cx="1469.6" cy="997" r="2.6" fill="#7E806E"/><circle cx="1479.9" cy="997.1" r="3.1" fill="#7E806E"/><circle cx="1491.5" cy="997.2" r="2.5" fill="#7E806E"/><circle cx="1471.4" cy="997.4" r="3" fill="#45483B"/><circle cx="1464.8" cy="997.4" r="3" fill="#5B5E4C"/><circle cx="1437.7" cy="997.5" r="2.6" fill="#727562"/><circle cx="1490.8" cy="997.6" r="3" fill="#5B5E4C"/><circle cx="1438.3" cy="997.6" r="2.5" fill="#6A6C5C"/><circle cx="1474.6" cy="997.6" r="2.2" fill="#727562"/><circle cx="1497.1" cy="997.7" r="2.5" fill="#5B5E4C"/><circle cx="1494.7" cy="998.5" r="2.9" fill="#6A6C5C"/><circle cx="1450.5" cy="998.9" r="2.3" fill="#5B5E4C"/><circle cx="1474.2" cy="998.9" r="2.6" fill="#45483B"/><circle cx="1459.7" cy="999" r="2.6" fill="#676A57"/><circle cx="1473.1" cy="999" r="2.6" fill="#727562"/><circle cx="1447.6" cy="999.1" r="3.1" fill="#7E806E"/><circle cx="1457.1" cy="999.1" r="2.4" fill="#727562"/><circle cx="1483.5" cy="999.2" r="2.4" fill="#727562"/><circle cx="1457.9" cy="999.7" r="2.6" fill="#4E5142"/><circle cx="1443" cy="1000" r="2.8" fill="#676A57"/><circle cx="1446.1" cy="1000.2" r="3.1" fill="#45483B"/><circle cx="1450.1" cy="1001.9" r="2.2" fill="#5B5E4C"/><circle cx="1462.3" cy="1002" r="2.9" fill="#45483B"/><circle cx="1489.6" cy="1002" r="2.6" fill="#7E806E"/><circle cx="1462.3" cy="1002.2" r="2.8" fill="#676A57"/><circle cx="1475.6" cy="1002.8" r="2.3" fill="#4E5142"/><circle cx="1486.8" cy="1003.1" r="2.3" fill="#6A6C5C"/><circle cx="1477.4" cy="1003.7" r="2.5" fill="#6A6C5C"/><circle cx="1453" cy="1004.5" r="2.4" fill="#6A6C5C"/><circle cx="1482.7" cy="1004.8" r="3" fill="#4E5142"/><circle cx="1462.5" cy="1005.3" r="3.1" fill="#6A6C5C"/><circle cx="1459.4" cy="1005.7" r="2.5" fill="#4E5142"/><circle cx="1480.3" cy="1007.4" r="3" fill="#727562"/><circle cx="1461.8" cy="1007.5" r="2.5" fill="#6A6C5C"/><circle cx="1471.6" cy="1008.1" r="3" fill="#7E806E"/><circle cx="1474.9" cy="1008.4" r="2.2" fill="#727562"/><circle cx="1466" cy="1008.7" r="2.7" fill="#727562"/><circle cx="1470.3" cy="1009.2" r="2.2" fill="#5B5E4C"/><circle cx="1471.5" cy="1006" r="3" fill="#7C7E86"/><circle cx="1487" cy="1002.5" r="3" fill="#84868E"/><circle cx="1447" cy="974" r="3" fill="#777A7C"/><circle cx="1463" cy="975.5" r="3" fill="#74777A"/></g></svg>
<div class="t ui b" style="left:64.4px;top:15.0px;font-size:40.6px;transform:scaleX(1.0520)">肥料<u style="width:0.78em"><s>の</s></u>安定供給</div>
<div class="t n" style="left:20.2px;top:114.0px;font-size:23.7px;transform:scaleX(0.9500)">○</div>
<div class="t n" style="left:20.2px;top:144.3px;font-size:23.7px;transform:scaleX(0.9500)">○</div>
<div class="t n" style="left:20.2px;top:204.1px;font-size:23.7px;transform:scaleX(0.9500)">○</div>
<div class="t ui" style="left:60.4px;top:114.7px;font-size:23.7px;transform:scaleX(1.0561)">食料安全保障<u style="width:0.78em"><s>を</s></u>確保<u style="width:4.68em"><s>するためには</s></u><i>、</i>肥料<u style="width:0.78em"><s>や</s></u>農薬等<u style="width:0.78em"><s>の</s></u><b>生産資材</b><u style="width:3.9em"><s>についても</s></u><i>、</i><b>安定的<u style="width:0.78em"><s>な</s></u>供給<u style="width:0.78em"><s>を</s></u>確保</b><u style="width:3.9em"><s>することが</s></u>必要<i>。</i></div>
<div class="t ui" style="left:60.4px;top:145.0px;font-size:23.7px;transform:scaleX(1.0508)">主<u style="width:0.78em"><s>な</s></u><b>化学肥料<u style="width:0.78em"><s>の</s></u>原料</b><u style="width:2.34em"><s>である</s></u>尿素<i>、</i><u style="width:1.56em"><s>りん</s></u>安（<u style="width:1.56em"><s>りん</s></u>酸<u style="width:4.68em"><s>アンモニウム</s></u>）<i>、</i>塩化加里（塩化<u style="width:3.12em"><s>カリウム</s></u>）<u style="width:0.78em"><s>は</s></u><b><u style="width:1.56em"><s>ほぼ</s></u>全量<u style="width:0.78em"><s>を</s></u>輸入<i>。</i></b></div>
<div class="t ui" style="left:36.0px;top:175.0px;font-size:23.7px;transform:scaleX(1.0484)">一方<i>、</i>国内<u style="width:1.56em"><s>には</s></u><i>、</i><b>家畜排<u style="width:1.56em"><s>せつ</s></u>物由来堆肥</b><u style="width:0.78em"><s>や</s></u><b>下水汚泥資源</b><u style="width:1.56em"><s>など</s></u>肥料成分<u style="width:0.78em"><s>を</s></u>含有<u style="width:1.56em"><s>する</s></u>資源<u style="width:2.34em"><s>があり</s></u><i>、</i>化学肥料<u style="width:0.78em"><s>に</s></u>代替<u style="width:4.68em"><s>したこれらの</s></u>活用<u style="width:0.78em"><s>を</s></u>推進<i>。</i></div>
<div class="t ui" style="left:59.4px;top:204.8px;font-size:23.7px;transform:scaleX(1.0646)"><b>国内資源<u style="width:0.78em"><s>の</s></u>利用促進</b><i>、</i>化学肥料原料<u style="width:0.78em"><s>の</s></u><b>備蓄<u style="width:0.78em"><s>の</s></u>確保</b><i>、</i>輸入相手国<u style="width:1.56em"><s>への</s></u>投資促進等<u style="width:2.34em"><s>による</s></u><b>輸入<u style="width:0.78em"><s>の</s></u>安定化</b><u style="width:0.78em"><s>が</s></u>必要<i>。</i></div>
<div class="t n" style="left:7.2px;top:296.8px;font-size:27.1px;transform:scaleX(0.9520)">○</div>
<div class="t ui b" style="left:53.6px;top:298.0px;font-size:27.1px;transform:scaleX(1.0932)">肥料原料<u style="width:0.78em"><s>の</s></u>輸入状況（Ｒ４肥料年度（R４.７～R５.６））</div>
<div class="t n" style="left:999.6px;top:293.8px;font-size:27.1px;transform:scaleX(0.9840)">○</div>
<div class="t ui b" style="left:1045.8px;top:294.5px;font-size:27.1px;transform:scaleX(1.1131)">国内資源<u style="width:0.78em"><s>の</s></u>利用促進<u style="width:0.78em"><s>の</s></u>例</div>
<div class="t m" style="left:559.2px;top:342.1px;font-size:18.6px;transform:scaleX(1.0429);color:#505050">国産</div>
<div class="t m" style="left:541.5px;top:379.1px;font-size:18.6px;transform:scaleX(1.0719);color:#505050">12(5%)</div>
<div class="t m" style="left:423.0px;top:354.8px;font-size:18.6px;transform:scaleX(1.0245);color:#505050">その他</div>
<div class="t m" style="left:416.3px;top:391.8px;font-size:18.6px;transform:scaleX(1.0719);color:#505050">16(6%)</div>
<div class="t m" style="left:336.6px;top:357.5px;font-size:18.6px;transform:scaleX(1.0377);color:#505050">ブルネイ</div>
<div class="t m" style="left:345.4px;top:394.5px;font-size:18.6px;transform:scaleX(1.0717);color:#505050">3(1%)</div>
<div class="t m" style="left:185.3px;top:371.0px;font-size:18.6px;transform:scaleX(1.0094);color:#505050">サウジアラビア</div>
<div class="t m" style="left:220.9px;top:408.0px;font-size:18.6px;transform:scaleX(1.0887);color:#505050">7(3%)</div>
<div class="t m" style="left:312.5px;top:432.5px;font-size:18.6px;transform:scaleX(1.0529);color:#505050">中国</div>
<div class="t m" style="left:291.9px;top:469.5px;font-size:18.6px;transform:scaleX(1.0403);color:#505050">28(11%)</div>
<div class="t m" style="left:491.6px;top:581.1px;font-size:18.6px;transform:scaleX(1.0157);color:#505050">マレーシア</div>
<div class="t m" style="left:491.0px;top:617.9px;font-size:18.6px;transform:scaleX(1.0420);color:#505050">183(73%)</div>
<div class="t ui b" style="left:397.4px;top:453.6px;font-size:23.7px;transform:scaleX(1.0883)">尿&nbsp;&nbsp;素</div>
<div class="t ui b" style="left:392.9px;top:483.5px;font-size:23.7px;transform:scaleX(1.1735)">（N）</div>
<div class="t ui" style="left:386.2px;top:516.2px;font-size:23.7px;transform:scaleX(0.9774)">全輸入量</div>
<div class="t ui" style="left:376.8px;top:543.4px;font-size:23.7px;transform:scaleX(1.1040)">238千<u style="width:1.56em"><s>トン</s></u></div>
<div class="t m" style="left:174.6px;top:708.2px;font-size:18.6px;transform:scaleX(1.0396);color:#505050">その他</div>
<div class="t m" style="left:163.4px;top:745.9px;font-size:18.6px;transform:scaleX(1.0390);color:#505050">56(12%)</div>
<div class="t m" style="left:102.3px;top:764.2px;font-size:18.6px;transform:scaleX(1.0478);color:#505050">アメリカ</div>
<div class="t m" style="left:98.9px;top:802.6px;font-size:18.6px;transform:scaleX(1.0532);color:#505050">46(10%)</div>
<div class="t m" style="left:89.0px;top:865.9px;font-size:18.6px;transform:scaleX(1.0314);color:#505050">モロッコ</div>
<div class="t m" style="left:86.8px;top:902.6px;font-size:18.6px;transform:scaleX(1.0390);color:#505050">76(16%)</div>
<div class="t m" style="left:345.7px;top:866.4px;font-size:18.6px;transform:scaleX(1.0324);color:#505050">中国</div>
<div class="t m" style="left:317.9px;top:903.7px;font-size:18.6px;transform:scaleX(1.0360);color:#505050">288(62%)</div>
<div class="t ui b" style="left:217.8px;top:773.9px;font-size:23.7px;transform:scaleX(1.1000)"><u style="width:1.56em"><s>りん</s></u>安</div>
<div class="t ui b" style="left:199.9px;top:802.8px;font-size:23.7px;transform:scaleX(1.1557)">（N･P）</div>
<div class="t ui" style="left:204.1px;top:842.3px;font-size:23.7px;transform:scaleX(0.9731)">全輸入量</div>
<div class="t ui" style="left:201.8px;top:870.6px;font-size:23.7px;transform:scaleX(1.1040)">466千<u style="width:1.56em"><s>トン</s></u></div>
<div class="t m" style="left:426.4px;top:708.1px;font-size:18.6px;transform:scaleX(1.0633);color:#505050">ドイツ</div>
<div class="t m" style="left:427.4px;top:746.0px;font-size:18.6px;transform:scaleX(1.0679);color:#505050">7(3%)</div>
<div class="t m" style="left:538.5px;top:727.8px;font-size:18.6px;transform:scaleX(1.0208);color:#505050">その他</div>
<div class="t m" style="left:525.8px;top:764.0px;font-size:18.6px;transform:scaleX(1.0558);color:#505050">46(20%)</div>
<div class="t m" style="left:716.2px;top:836.1px;font-size:18.6px;transform:scaleX(1.0113);color:#505050">カナダ</div>
<div class="t m" style="left:697.1px;top:874.0px;font-size:18.6px;transform:scaleX(1.0489);color:#505050">164(70%)</div>
<div class="t m" style="left:421.5px;top:864.1px;font-size:18.6px;transform:scaleX(1.0236);color:#505050">イスラエル</div>
<div class="t m" style="left:432.5px;top:901.1px;font-size:18.6px;transform:scaleX(1.0687);color:#505050">16(7%)</div>
<div class="t ui b" style="left:590.6px;top:781.7px;font-size:23.7px;transform:scaleX(1.0505)">塩化加里</div>
<div class="t ui b" style="left:602.0px;top:812.4px;font-size:23.7px;transform:scaleX(1.2312)">（K）</div>
<div class="t ui" style="left:588.7px;top:842.7px;font-size:23.7px;transform:scaleX(0.9796)">全輸入量</div>
<div class="t ui" style="left:579.2px;top:870.5px;font-size:23.7px;transform:scaleX(1.1091)">233千<u style="width:1.56em"><s>トン</s></u></div>
<div class="t ui" style="left:29.4px;top:1033.7px;font-size:16.5px;transform:scaleX(1.0298)">資料：経済安全保障推進法第48条第１項<u style="width:0.78em"><s>の</s></u>規定<u style="width:0.78em"><s>に</s></u>基<u style="width:1.56em"><s>づく</s></u>調査結果<u style="width:3.12em"><s>をもとに</s></u>作成（工業用仕向<u style="width:3.9em"><s>けのものを</s></u>除<u style="width:0.78em"><s>く</s></u><i>。</i>）<i>。</i></div>
<div class="t ui" style="left:41.0px;top:1057.3px;font-size:16.5px;transform:scaleX(1.0432)">注：１）｢<u style="width:1.56em"><s>その</s></u>他｣<u style="width:1.56em"><s>には</s></u><i>、</i>輸入割合<u style="width:0.78em"><s>が</s></u>１％未満<u style="width:0.78em"><s>の</s></u>国<u style="width:0.78em"><s>の</s></u>他<i>、</i>財務省関税課<u style="width:1.56em"><s>への</s></u>非公表化処理申請<u style="width:0.78em"><s>に</s></u>基<u style="width:1.56em"><s>づき</s></u>貿易統計上非公表<u style="width:0.78em"><s>と</s></u></div>
<div class="t ui" style="left:74.0px;top:1076.5px;font-size:16.5px;transform:scaleX(1.0795)"><u style="width:3.9em"><s>されている</s></u>国<u style="width:0.78em"><s>を</s></u>含<u style="width:0.78em"><s>む</s></u><i>。</i></div>
<div class="t ui" style="left:64.2px;top:1100.1px;font-size:16.5px;transform:scaleX(1.0664)">２）全輸入量<u style="width:1.56em"><s>には</s></u><i>、</i>国産<u style="width:0.78em"><s>は</s></u>含<u style="width:3.12em"><s>まれない</s></u><i>。</i></div>
<div class="t n b" style="left:989.5px;top:356.5px;font-size:20.3px;transform:scaleX(0.9600)">①</div>
<div class="t ui b" style="left:1024.5px;top:358.5px;font-size:20.3px;transform:scaleX(1.0468)"><em>JA</em>全農<u style="width:3.12em"><s>みやぎと</s></u><em>JA</em>鹿児島県経済連</div>
<div class="t ui b" style="left:1254.8px;top:387.2px;font-size:20.3px;transform:scaleX(1.0517)">（堆肥<u style="width:3.12em"><s>ペレット</s></u>･稲<u style="width:1.56em"><s>わら</s></u>広域流通）</div>
<div class="t m" style="left:997.6px;top:434.4px;font-size:19.2px;transform:scaleX(1.0466)"><em>JA</em>全農みやぎと<em>JA</em>鹿児島県経済連は、</div>
<div class="t m" style="left:981.8px;top:455.0px;font-size:19.2px;transform:scaleX(1.0608)">稲わらと堆肥ペレットの広域流通を実</div>
<div class="t m" style="left:981.8px;top:476.5px;font-size:19.2px;transform:scaleX(1.1480)">証。</div>
<div class="t m" style="left:1003.5px;top:503.4px;font-size:19.2px;transform:scaleX(1.0512)">宮城県の稲わら（140ｔ）を鹿児島</div>
<div class="t m" style="left:982.5px;top:525.6px;font-size:19.2px;transform:scaleX(1.0652)">へ輸送し、鹿児島からは堆肥ペレット</div>
<div class="t m" style="left:980.8px;top:546.6px;font-size:19.2px;transform:scaleX(1.0633)">（60ｔ）を宮城県へ輸送。</div>
<div class="t m" style="left:1002.8px;top:575.6px;font-size:19.2px;transform:scaleX(1.0573)">石巻市<span class="n">⇔</span>鹿児島市の輸送距離は約</div>
<div class="t m" style="left:982.4px;top:599.6px;font-size:19.2px;transform:scaleX(1.0560)">1,500㎞。実証では、 20ｔトレー</div>
<div class="t m" style="left:982.0px;top:624.0px;font-size:19.2px;transform:scaleX(1.0591)">ラー（途中フェリーを使用予定）及び</div>
<div class="t m" style="left:982.9px;top:647.4px;font-size:19.2px;transform:scaleX(1.0586)">ＪＲ貨物の2種類の輸送方法を検証。</div>
<div class="t n b" style="left:1000.7px;top:717.5px;font-size:20.3px;transform:scaleX(0.9450)">②</div>
<div class="t ui b" style="left:1034.8px;top:719.5px;font-size:20.3px;transform:scaleX(1.0547)">兵庫県神戸市（下水汚泥<u style="width:3.9em"><s>からのリン</s></u>回収）</div>
<div class="t ui" style="left:1055.1px;top:745.9px;font-size:20.3px;transform:scaleX(0.9639)">下水汚泥<u style="width:1.56em"><s>から</s></u>純度<u style="width:0.78em"><s>の</s></u>高<u style="width:2.34em"><s>いリン</s></u>｢<u style="width:2.34em"><s>こうべ</s></u>再生<u style="width:1.56em"><s>リン</s></u>｣<u style="width:0.78em"><s>を</s></u>回収<u style="width:0.78em"><s>し</s></u><i>、</i>有機肥料</div>
<div class="t ui" style="left:1025.0px;top:768.0px;font-size:20.3px;transform:scaleX(0.9770)">等<u style="width:0.78em"><s>と</s></u>配合<u style="width:1.56em"><s>した</s></u>｢<u style="width:6.24em"><s>こうべハーベスト</s></u>｣<u style="width:0.78em"><s>を</s></u>製造<i>。</i></div>
<div class="t ui" style="left:1051.8px;top:793.9px;font-size:20.3px;transform:scaleX(0.9927)">｢<u style="width:6.24em"><s>こうべハーベスト</s></u>｣<u style="width:0.78em"><s>は</s></u><i>、</i>神戸市<u style="width:0.78em"><s>の</s></u>特別栽培農作物<u style="width:6.24em"><s>のブランドである</s></u></div>
<div class="t ui" style="left:1023.5px;top:816.0px;font-size:20.3px;transform:scaleX(0.9914)">｢<u style="width:2.34em"><s>こうべ</s></u>旬菜｣<u style="width:1.56em"><s>にも</s></u>使用<i>。</i></div>
<div class="t ui" style="left:992.3px;top:1037.4px;font-size:15.2px;transform:scaleX(1.0159)"><span class="n">○</span>下水汚泥<u style="width:1.56em"><s>から</s></u>回収<u style="width:1.56em"><s>した</s></u></div>
<div class="t ui" style="left:1000.9px;top:1056.3px;font-size:15.2px;transform:scaleX(0.9772)">｢<u style="width:2.34em"><s>こうべ</s></u>再生<u style="width:1.56em"><s>リン</s></u>｣</div>
<div class="t ui" style="left:1304.2px;top:1035.0px;font-size:15.2px;transform:scaleX(0.9711)"><span class="n">○</span><u style="width:2.34em"><s>こうべ</s></u>再生<u style="width:2.34em"><s>リンを</s></u>原料<u style="width:2.34em"><s>とした</s></u></div>
<div class="t ui" style="left:1313.6px;top:1053.0px;font-size:15.2px;transform:scaleX(1.0060)">配合肥料｢<u style="width:6.24em"><s>こうべハーベスト</s></u>｣</div>
<div class="t m" style="left:1564.0px;top:1077.6px;font-size:38.6px;transform:scaleX(0.9209)">10</div>
</body></html>
